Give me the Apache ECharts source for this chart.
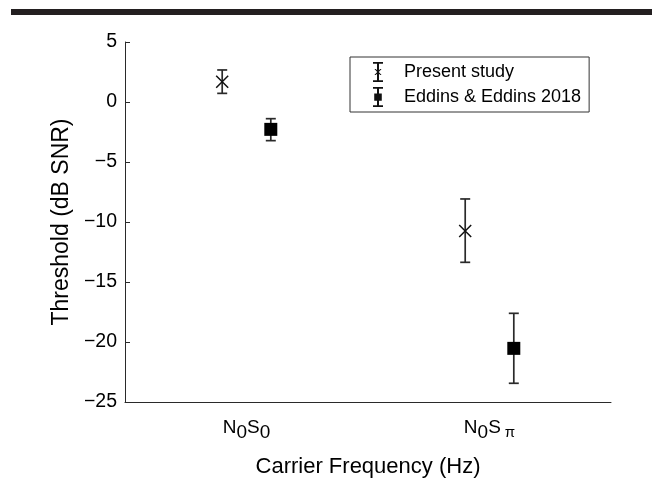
<!DOCTYPE html>
<html>
<head>
<meta charset="utf-8">
<script src="https://cdn.jsdelivr.net/npm/echarts@6/dist/echarts.min.js"></script>
<style>
html,body{margin:0;padding:0;background:#fff;}
#chart{width:659px;height:489px;}
</style>
</head>
<body>
<div id="chart"></div>
<script>
// ---- data ----
var categories = ['N{sub|0}S{sub|0}', 'N{sub|0}S{pi|π}'];
var yTicks = [5, 0, -5, -10, -15, -20, -25];
var seriesNames = ['Present study', 'Eddins & Eddins 2018'];
// x positions (category index 1 and 2, offset left/right)
var presentX = [0.9, 1.9];
var presentMean = [1.69, -10.75];
var presentLow = [0.72, -13.36];
var presentHigh = [2.67, -8.08];
var eddinsX = [1.1, 2.1];
var eddinsMean = [-2.28, -20.53];
var eddinsLow = [-3.22, -23.44];
var eddinsHigh = [-1.39, -17.61];

var FONT = '"Liberation Sans", Arial, Helvetica, sans-serif';
var INK = '#2a2a2a';

function zip3(a, b, c) { return a.map(function (v, i) { return [v, b[i], c[i]]; }); }
function zip2(a, b) { return a.map(function (v, i) { return [v, b[i]]; }); }

function errRender(params, api) {
  var x = api.value(0);
  var p1 = api.coord([x, api.value(1)]);
  var p2 = api.coord([x, api.value(2)]);
  var hw = 5;
  var st = { stroke: INK, lineWidth: 1.7 };
  return {
    type: 'group',
    children: [
      { type: 'line', shape: { x1: p1[0], y1: p1[1], x2: p2[0], y2: p2[1] }, style: st },
      { type: 'line', shape: { x1: p1[0] - hw, y1: p1[1], x2: p1[0] + hw, y2: p1[1] }, style: st },
      { type: 'line', shape: { x1: p2[0] - hw, y1: p2[1], x2: p2[0] + hw, y2: p2[1] }, style: st }
    ]
  };
}

var iconPresent = 'path://M0.5,0 h9 v1.8 h-9 Z M0.5,18.2 h9 v1.8 h-9 Z M4.1,0 h1.8 v20 h-1.8 Z M1.8,7 L3,7 L5,9.2 L7,7 L8.2,7 L5.7,10 L8.2,13 L7,13 L5,10.8 L3,13 L1.8,13 L4.3,10 Z';
var iconEddins = 'path://M0.5,0 h9 v1.8 h-9 Z M0.5,18.2 h9 v1.8 h-9 Z M4.1,0 h1.8 v20 h-1.8 Z M1.6,6.4 h6.8 v7.4 h-6.8 Z';

var chart = echarts.init(document.getElementById('chart'), null, { renderer: 'canvas' });
chart.setOption({
  animation: false,
  backgroundColor: '#fff',
  textStyle: { fontFamily: FONT },
  graphic: [{
    type: 'rect', shape: { x: 11, y: 9, width: 641, height: 6 },
    style: { fill: '#231f20' }, silent: true
  }],
  grid: { left: 125, right: 48, top: 42, bottom: 87, containLabel: false },
  legend: {
    left: 350, top: 57, orient: 'vertical',
    borderColor: '#333', borderWidth: 1, borderRadius: 0,
    padding: [5, 8, 5, 23], itemGap: 5,
    itemWidth: 10, itemHeight: 20, symbolKeepAspect: false,
    textStyle: { fontFamily: FONT, fontSize: 18, color: '#000', padding: [0, 0, 0, 16] },
    data: [
      { name: seriesNames[0], icon: iconPresent, itemStyle: { color: '#111', borderWidth: 0, opacity: 1 } },
      { name: seriesNames[1], icon: iconEddins, itemStyle: { color: '#111', borderWidth: 0, opacity: 1 } }
    ]
  },
  xAxis: [{
    type: 'category', data: categories, boundaryGap: true, position: 'bottom',
    axisLine: { onZero: false, lineStyle: { color: INK, width: 1 } },
    axisTick: { inside: true, alignWithLabel: true, length: 5, lineStyle: { color: INK } },
    axisLabel: {
      margin: 12, color: '#000', fontFamily: FONT, fontSize: 19,
      formatter: function (v) { return v; },
      rich: {
        sub: { fontSize: 19, padding: [9, 0, 0, 0], fontFamily: FONT, color: '#000' },
        pi: { fontSize: 15, padding: [9, 0, 0, 4], fontFamily: FONT, color: '#000' }
      }
    },
    name: 'Carrier Frequency (Hz)', nameLocation: 'middle', nameGap: 54,
    nameTextStyle: { fontFamily: FONT, fontSize: 22, color: '#000' },
    splitLine: { show: false }
  }, {
    type: 'value', min: 0.5, max: 2.5, show: false
  }],
  yAxis: {
    type: 'value', min: yTicks[yTicks.length - 1], max: yTicks[0], interval: 5,
    axisLine: { show: true, lineStyle: { color: INK, width: 1 } },
    axisTick: { show: true, inside: true, length: 5, lineStyle: { color: INK } },
    axisLabel: {
      margin: 8, color: '#000', fontFamily: FONT, fontSize: 19.5,
      formatter: function (v) { return String(v).replace('-', '\u2212'); }
    },
    splitLine: { show: false },
    name: 'Threshold (dB SNR)', nameLocation: 'middle', nameGap: 52,
    nameTextStyle: { fontFamily: FONT, fontSize: 23, color: '#000' }
  },
  series: [{
    name: seriesNames[0] + ' err', type: 'custom', xAxisIndex: 1,
    renderItem: errRender, data: zip3(presentX, presentLow, presentHigh), z: 2
  }, {
    name: seriesNames[1] + ' err', type: 'custom', xAxisIndex: 1,
    renderItem: errRender, data: zip3(eddinsX, eddinsLow, eddinsHigh), z: 2
  }, {
    name: seriesNames[0], type: 'scatter', xAxisIndex: 1,
    symbol: 'path://M0,0 L10,10 M10,0 L0,10', symbolSize: 12,
    itemStyle: { color: 'none', borderColor: '#111', borderWidth: 1.5, opacity: 1 },
    data: zip2(presentX, presentMean), z: 3
  }, {
    name: seriesNames[1], type: 'scatter', xAxisIndex: 1,
    symbol: 'rect', symbolSize: 13,
    itemStyle: { color: '#000', opacity: 1 },
    data: zip2(eddinsX, eddinsMean), z: 3
  }]
});
</script>
</body>
</html>
